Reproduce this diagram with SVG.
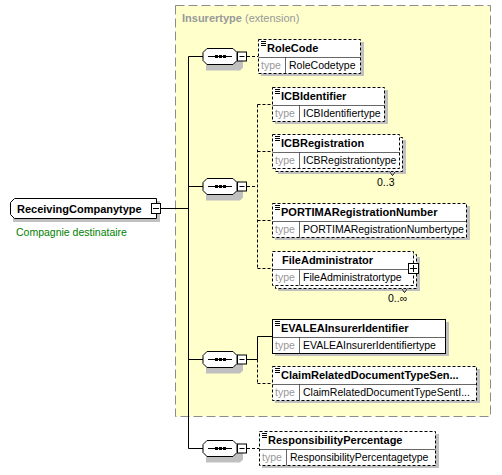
<svg xmlns="http://www.w3.org/2000/svg" width="502" height="475" viewBox="0 0 502 475">
<style>
.name{font-family:"Liberation Sans",Arial,sans-serif;font-size:11px;font-weight:bold;fill:#000}
.tl{font-family:"Liberation Sans",Arial,sans-serif;font-size:10.5px;fill:#999}
.tv{font-family:"Liberation Sans",Arial,sans-serif;font-size:10.5px;fill:#000}
.occ{font-family:"Liberation Sans",Arial,sans-serif;font-size:10.5px;fill:#000}
.box{fill:#fff;stroke:#000;stroke-width:1}
.dash{stroke-dasharray:3,2}
.sh{fill:#c0c0c0}
.ln{stroke:#000;stroke-width:1;fill:none}
.dl{stroke:#000;stroke-width:1;fill:none;stroke-dasharray:3,2}
</style>
<defs>
<g id="seq">
<path d="M3,3 L37,3 L40,6 L40,19 L37,22 L3,22 Z" class="sh"/>
<path d="M4,0 L30,0 L34,4 L34,12 L30,16 L4,16 L0,12 L0,4 Z" fill="#fff" stroke="#000"/>
<line x1="5" y1="8" x2="29" y2="8" stroke="#000"/>
<rect x="12" y="6.5" width="3" height="3" fill="#000"/>
<rect x="16" y="6.5" width="3" height="3" fill="#000"/>
<rect x="20" y="6.5" width="3" height="3" fill="#000"/>
<rect x="34.5" y="3.5" width="9" height="9" fill="#fff" stroke="#000"/>
<line x1="36.5" y1="8" x2="41.5" y2="8" stroke="#000"/>
</g>
<path id="ico" d="M2.5,2 H7.5 M2.5,4 H7.5 M2.5,6 H7.5" stroke="#000" stroke-width="1" fill="none"/>
</defs>

<rect x="175.5" y="5.5" width="315" height="411" fill="#ffffcc" stroke="#8c8c8c" stroke-dasharray="9,4"/>
<text x="182" y="22" font-family="Liberation Sans, Arial, sans-serif" font-size="11px" fill="#999"><tspan font-weight="bold">Insurertype</tspan> (extension)</text>

<g id="connectors">
<line class="ln" x1="161" y1="208.5" x2="188.5" y2="208.5"/>
<line class="ln" x1="188.5" y1="56.5" x2="188.5" y2="448.5"/>
<line class="ln" x1="188.5" y1="56.5" x2="203" y2="56.5"/>
<line class="ln" x1="188.5" y1="186.5" x2="203" y2="186.5"/>
<line class="ln" x1="188.5" y1="359.5" x2="203" y2="359.5"/>
<line class="ln" x1="188.5" y1="448.5" x2="203" y2="448.5"/>
<line class="dl" x1="247" y1="56.5" x2="258" y2="56.5"/>
<line class="dl" x1="247" y1="186.5" x2="257.5" y2="186.5"/>
<line class="dl" x1="257.5" y1="104.5" x2="257.5" y2="268.5"/>
<line class="dl" x1="257.5" y1="104.5" x2="272" y2="104.5"/>
<line class="dl" x1="257.5" y1="151.5" x2="272" y2="151.5"/>
<line class="dl" x1="257.5" y1="220.5" x2="272" y2="220.5"/>
<line class="dl" x1="257.5" y1="268.5" x2="272" y2="268.5"/>
<line class="ln" x1="247" y1="359.5" x2="257.5" y2="359.5"/>
<line class="ln" x1="257.5" y1="336.5" x2="257.5" y2="359.5"/>
<line class="dl" x1="257.5" y1="359.5" x2="257.5" y2="383.5"/>
<line class="ln" x1="257.5" y1="336.5" x2="272" y2="336.5"/>
<line class="dl" x1="257.5" y1="383.5" x2="272" y2="383.5"/>
<line class="dl" x1="247" y1="448.5" x2="259" y2="448.5"/>
</g>

<g id="root">
<path d="M13,201 L160,201 L160,222 L13,222 Z" class="sh"/>
<path d="M14.5,198.5 L156.5,198.5 L156.5,218.5 L14.5,218.5 L10.5,214.5 L10.5,202.5 Z" fill="#fff" stroke="#000"/>
<rect x="151.5" y="203.5" width="9" height="10" fill="#fff" stroke="#000"/>
<line x1="153" y1="208.5" x2="159" y2="208.5" stroke="#000"/>
<text x="17" y="213" class="name">ReceivingCompanytype</text>
<text x="16" y="236" font-family="Liberation Sans, Arial, sans-serif" font-size="10.5px" fill="#008000">Compagnie destinataire</text>
</g>

<g id="seq1"><use href="#seq" x="203" y="48.5"/></g>
<g id="seq2"><use href="#seq" x="203" y="178.5"/></g>
<g id="seq3"><use href="#seq" x="203" y="351.5"/></g>
<g id="seq4"><use href="#seq" x="203" y="440.5"/></g>

<g id="RoleCode">
<rect x="261" y="42" width="103" height="34" class="sh"/>
<rect x="258.5" y="39.5" width="102" height="34" class="box dash"/>
<line x1="258.5" y1="57.5" x2="360.5" y2="57.5" stroke="#000" stroke-width="0.6"/>
<line x1="285.5" y1="57.5" x2="285.5" y2="73.5" stroke="#000" stroke-width="0.6"/>
<use href="#ico" x="258.5" y="39.5"/>
<text x="267" y="52" class="name">RoleCode</text>
<text x="261" y="69" class="tl">type</text>
<text x="289" y="69" class="tv">RoleCodetype</text>
</g>

<g id="ICBIdentifier">
<rect x="275" y="90" width="113" height="34" class="sh"/>
<rect x="272.5" y="87.5" width="112" height="34" class="box dash"/>
<line x1="272.5" y1="105.5" x2="384.5" y2="105.5" stroke="#000" stroke-width="0.6"/>
<line x1="299.5" y1="105.5" x2="299.5" y2="121.5" stroke="#000" stroke-width="0.6"/>
<use href="#ico" x="272.5" y="87.5"/>
<text x="281" y="100" class="name">ICBIdentifier</text>
<text x="275" y="117" class="tl">type</text>
<text x="303" y="117" class="tv">ICBIdentifiertype</text>
</g>

<g id="ICBRegistration">
<rect x="278" y="140" width="128" height="34" class="sh"/>
<rect x="275.5" y="137.5" width="127" height="34" class="box dash"/>
<rect x="272.5" y="134.5" width="127" height="34" class="box dash"/>
<line x1="272.5" y1="152.5" x2="399.5" y2="152.5" stroke="#000" stroke-width="0.6"/>
<line x1="299.5" y1="152.5" x2="299.5" y2="168.5" stroke="#000" stroke-width="0.6"/>
<use href="#ico" x="272.5" y="134.5"/>
<text x="281" y="147" class="name">ICBRegistration</text>
<text x="275" y="164" class="tl">type</text>
<text x="303" y="164" class="tv">ICBRegistrationtype</text>
<path d="M389.5,171.5 L392.5,175.5 L395.5,171.5" stroke="#fff" stroke-width="1.5" fill="none"/>
<path d="M389.5,171.5 L392.5,175.5 L395.5,171.5" class="ln" stroke-width="0.7"/>
<text x="377" y="186" class="occ">0..3</text>
</g>

<g id="PORTIMARegistrationNumber">
<rect x="275" y="206" width="195" height="34" class="sh"/>
<rect x="272.5" y="203.5" width="194" height="34" class="box dash"/>
<line x1="272.5" y1="221.5" x2="466.5" y2="221.5" stroke="#000" stroke-width="0.6"/>
<line x1="299.5" y1="221.5" x2="299.5" y2="237.5" stroke="#000" stroke-width="0.6"/>
<use href="#ico" x="272.5" y="203.5"/>
<text x="281" y="216" class="name">PORTIMARegistrationNumber</text>
<text x="275" y="233" class="tl">type</text>
<text x="303" y="233" class="tv">PORTIMARegistrationNumbertype</text>
</g>

<g id="FileAdministrator">
<rect x="278" y="257" width="142" height="34" class="sh"/>
<rect x="275.5" y="254.5" width="141" height="34" class="box dash"/>
<rect x="272.5" y="251.5" width="141" height="34" class="box dash"/>
<line x1="272.5" y1="269.5" x2="413.5" y2="269.5" stroke="#000" stroke-width="0.6"/>
<line x1="299.5" y1="269.5" x2="299.5" y2="285.5" stroke="#000" stroke-width="0.6"/>
<text x="282" y="264" class="name">FileAdministrator</text>
<text x="275" y="281" class="tl">type</text>
<text x="303" y="281" class="tv">FileAdministratortype</text>
<rect x="408.5" y="263.5" width="10" height="10" fill="#fff" stroke="#000"/>
<line x1="410" y1="268.5" x2="417" y2="268.5" stroke="#000"/>
<line x1="413.5" y1="265" x2="413.5" y2="272" stroke="#000"/>
<path d="M401.5,288.5 L404.5,292.5 L407.5,288.5" stroke="#fff" stroke-width="1.5" fill="none"/>
<path d="M401.5,288.5 L404.5,292.5 L407.5,288.5" class="ln" stroke-width="0.7"/>
<text x="388" y="302" class="occ">0..∞</text>
</g>

<g id="EVALEAInsurerIdentifier">
<rect x="275" y="322" width="174" height="34" class="sh"/>
<rect x="272.5" y="319.5" width="173" height="34" class="box"/>
<line x1="272.5" y1="337.5" x2="445.5" y2="337.5" stroke="#000" stroke-width="0.6"/>
<line x1="299.5" y1="337.5" x2="299.5" y2="353.5" stroke="#000" stroke-width="0.6"/>
<use href="#ico" x="272.5" y="319.5"/>
<text x="281" y="332" class="name">EVALEAInsurerIdentifier</text>
<text x="275" y="349" class="tl">type</text>
<text x="303" y="349" class="tv">EVALEAInsurerIdentifiertype</text>
</g>

<g id="ClaimRelatedDocumentTypeSent">
<rect x="275" y="369" width="205" height="34" class="sh"/>
<rect x="272.5" y="366.5" width="204" height="34" class="box dash"/>
<line x1="272.5" y1="384.5" x2="476.5" y2="384.5" stroke="#000" stroke-width="0.6"/>
<line x1="299.5" y1="384.5" x2="299.5" y2="400.5" stroke="#000" stroke-width="0.6"/>
<use href="#ico" x="272.5" y="366.5"/>
<text x="281" y="379" class="name">ClaimRelatedDocumentTypeSen...</text>
<text x="275" y="396" class="tl">type</text>
<text x="303" y="396" class="tv">ClaimRelatedDocumentTypeSentI...</text>
</g>

<g id="ResponsibilityPercentage">
<rect x="262" y="434" width="177" height="34" class="sh"/>
<rect x="259.5" y="431.5" width="176" height="34" class="box dash"/>
<line x1="259.5" y1="449.5" x2="435.5" y2="449.5" stroke="#000" stroke-width="0.6"/>
<line x1="286.5" y1="449.5" x2="286.5" y2="465.5" stroke="#000" stroke-width="0.6"/>
<use href="#ico" x="259.5" y="431.5"/>
<text x="268" y="444" class="name">ResponsibilityPercentage</text>
<text x="262" y="461" class="tl">type</text>
<text x="290" y="461" class="tv">ResponsibilityPercentagetype</text>
</g>
</svg>
